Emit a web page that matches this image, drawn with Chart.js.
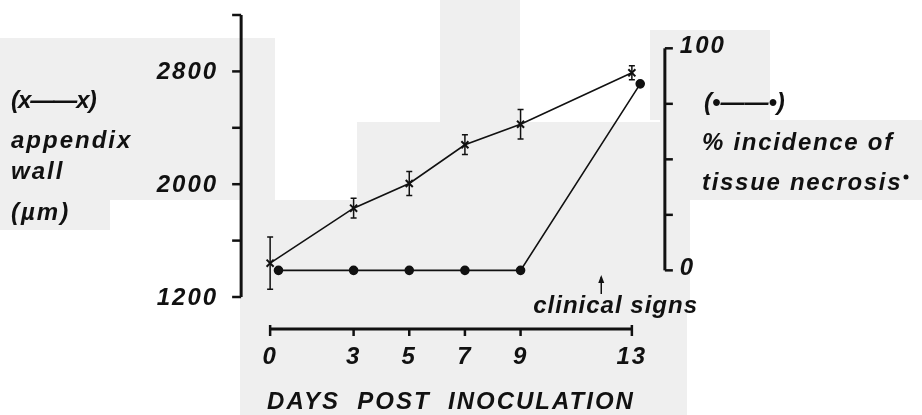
<!DOCTYPE html>
<html>
<head>
<meta charset="utf-8">
<title>Appendix wall and tissue necrosis</title>
<script src="https://cdn.jsdelivr.net/npm/chart.js@4.4.0/dist/chart.umd.min.js"></script>
<style>
  html, body { margin: 0; padding: 0; background: #ffffff; }
  #wrap { position: relative; width: 922px; height: 415px; }
</style>
</head>
<body>
<div id="wrap"><canvas id="grafico"></canvas></div>
<script>
// Dados: espessura da parede do apêndice (µm) e % de necrose por dia
const days = [0, 3, 5, 7, 9, 13];
const appendixWall = [1440, 1830, 2005, 2280, 2425, 2790];
const wallError = [185, 70, 85, 70, 105, 50];
// os pontos de necrose do dia 0 e 13 aparecem levemente deslocados
const necrosisDays = [0.3, 3, 5, 7, 9, 13.3];
const necrosis = [0, 0, 0, 0, 0, 84];

// Eixos e rótulos
const xTicks = [0, 3, 5, 7, 9, 13];
const leftTicks = [1200, 1600, 2000, 2400, 2800, 3200];
const leftLabels = [1200, 2000, 2800];
const rightTicks = [0, 25, 50, 75, 100];
const rightLabels = [0, 100];
const xTitle = 'DAYS  POST  INOCULATION';
const leftLegend = ['appendix', 'wall', '(\u00b5m)'];
const rightLegend = ['% incidence of', 'tissue necrosis'];
const noteText = 'clinical signs';
const noteDay = 11.9;

const FONTE = 'bold italic 24px "Liberation Sans", Arial, sans-serif';
const INK = '#111111';

// Manchas cinza do fundo (papel digitalizado)
const patches = [
  [0, 38, 240, 162], [0, 200, 110, 30], [240, 38, 35, 162], [240, 200, 40, 215],
  [280, 200, 80, 215], [357, 122, 330, 293], [440, 0, 80, 122],
  [650, 30, 120, 90], [660, 120, 262, 80], [660, 200, 30, 100]
];

const fundo = {
  id: 'fundo',
  beforeDraw(chart) {
    const c = chart.ctx;
    c.save();
    c.fillStyle = '#ffffff';
    c.fillRect(0, 0, chart.width, chart.height);
    c.fillStyle = '#efefef';
    patches.forEach(p => c.fillRect(p[0], p[1], p[2], p[3]));
    c.restore();
  }
};

// Barras de erro da parede do apêndice
const barrasErro = {
  id: 'barrasErro',
  afterDatasetsDraw(chart) {
    const c = chart.ctx, x = chart.scales.x, y = chart.scales.y;
    c.save();
    c.strokeStyle = INK;
    c.lineWidth = 1.5;
    days.forEach((d, i) => {
      const px = x.getPixelForValue(d);
      const top = y.getPixelForValue(appendixWall[i] + wallError[i]);
      const bot = y.getPixelForValue(appendixWall[i] - wallError[i]);
      c.beginPath();
      c.moveTo(px, top); c.lineTo(px, bot);
      c.moveTo(px - 3, top); c.lineTo(px + 3, top);
      c.moveTo(px - 3, bot); c.lineTo(px + 3, bot);
      c.stroke();
    });
    c.restore();
  }
};

// Eixos desenhados à mão, separados da área do gráfico
const eixos = {
  id: 'eixos',
  afterDraw(chart) {
    const c = chart.ctx, a = chart.chartArea;
    const x = chart.scales.x, y = chart.scales.y, y1 = chart.scales.y1;
    const x0 = x.getPixelForValue(0), x13 = x.getPixelForValue(13);
    c.save();
    c.strokeStyle = INK;
    c.fillStyle = INK;
    c.font = FONTE;
    c.letterSpacing = '2px';
    c.lineCap = 'butt';

    // eixo esquerdo
    const xl = x0 - 29;
    c.lineWidth = 3;
    c.beginPath();
    c.moveTo(xl, y.getPixelForValue(3200));
    c.lineTo(xl, y.getPixelForValue(1200));
    c.stroke();
    c.lineWidth = 2.5;
    leftTicks.forEach(t => {
      const py = y.getPixelForValue(t);
      c.beginPath(); c.moveTo(xl - 9, py); c.lineTo(xl, py); c.stroke();
    });
    c.textAlign = 'right';
    c.textBaseline = 'middle';
    leftLabels.forEach(t => c.fillText(String(t), xl - 23, y.getPixelForValue(t) + 1));

    // eixo direito
    const xr = x13 + 33;
    c.lineWidth = 3;
    c.beginPath();
    c.moveTo(xr, y1.getPixelForValue(100));
    c.lineTo(xr, y1.getPixelForValue(0));
    c.stroke();
    c.lineWidth = 2.5;
    rightTicks.forEach(t => {
      const py = y1.getPixelForValue(t);
      c.beginPath(); c.moveTo(xr, py); c.lineTo(xr + 8, py); c.stroke();
    });
    c.textAlign = 'left';
    rightLabels.forEach(t => c.fillText(String(t), xr + 15, y1.getPixelForValue(t) - 2));

    // eixo x
    const yb = a.bottom + 32;
    c.lineWidth = 3;
    c.beginPath();
    c.moveTo(x0, yb);
    c.lineTo(x13, yb);
    c.stroke();
    c.lineWidth = 2.5;
    xTicks.forEach((t, i) => {
      const px = x.getPixelForValue(t);
      const up = (i === 0 || i === xTicks.length - 1) ? 4 : 0;
      c.beginPath(); c.moveTo(px, yb - up); c.lineTo(px, yb + 7); c.stroke();
    });
    c.textAlign = 'center';
    xTicks.forEach(t => c.fillText(String(t), x.getPixelForValue(t), yb + 28));
    c.fillText(xTitle, (x0 + x13) / 2, yb + 73);

    // legendas laterais
    c.textAlign = 'left';
    c.letterSpacing = '-1px';
    c.fillText('(x\u2014\u2014x)', 11, 101);
    c.letterSpacing = '0px';
    c.fillText('(\u2022\u2014\u2014\u2022)', 704, 103);
    c.letterSpacing = '2px';
    const ly = [141, 172, 213];
    leftLegend.forEach((s, i) => c.fillText(s, 11, ly[i]));
    c.letterSpacing = '1.7px';
    const ry = [143, 183];
    rightLegend.forEach((s, i) => c.fillText(s, 702, ry[i]));
    c.beginPath();
    c.arc(906, 177, 2.5, 0, Math.PI * 2);
    c.fill();

    // sinais clínicos com seta
    const nx = x.getPixelForValue(noteDay);
    c.letterSpacing = '1px';
    c.fillText(noteText, nx - 68, a.bottom + 9);
    c.lineWidth = 1.5;
    c.beginPath();
    c.moveTo(nx, a.bottom - 3); c.lineTo(nx, a.bottom - 20);
    c.stroke();
    c.beginPath();
    c.moveTo(nx, a.bottom - 22); c.lineTo(nx - 3, a.bottom - 14); c.lineTo(nx + 3, a.bottom - 14);
    c.closePath(); c.fill();
    c.restore();
  }
};

const ctx = document.getElementById('grafico').getContext('2d');
const grafico = new Chart(ctx, {
  type: 'line',
  data: {
    datasets: [
      {
        label: 'appendix wall (µm)',
        data: days.map((d, i) => ({ x: d, y: appendixWall[i] })),
        yAxisID: 'y',
        borderColor: INK,
        borderWidth: 1.6,
        pointStyle: 'crossRot',
        pointRadius: 5,
        pointBorderWidth: 2,
        pointBorderColor: INK,
        tension: 0,
        clip: false
      },
      {
        label: '% incidence of tissue necrosis',
        data: necrosisDays.map((d, i) => ({ x: d, y: necrosis[i] })),
        yAxisID: 'y1',
        borderColor: INK,
        borderWidth: 1.6,
        pointStyle: 'circle',
        pointRadius: 4,
        pointBackgroundColor: INK,
        pointBorderColor: INK,
        tension: 0,
        clip: false
      }
    ]
  },
  options: {
    responsive: true,
    maintainAspectRatio: false,
    animation: false,
    // dia 0 fica em x≈270 e dia 13 em x≈632
    layout: { padding: { left: 259, right: 279, top: 15, bottom: 118 } },
    plugins: { legend: { display: false }, tooltip: { enabled: false } },
    scales: {
      x: { type: 'linear', min: -0.4, max: 13.4, display: false },
      y: { min: 1200, max: 3200, display: false },
      y1: { min: -12, max: 115, display: false }
    }
  },
  plugins: [fundo, barrasErro, eixos]
});
</script>
</body>
</html>
